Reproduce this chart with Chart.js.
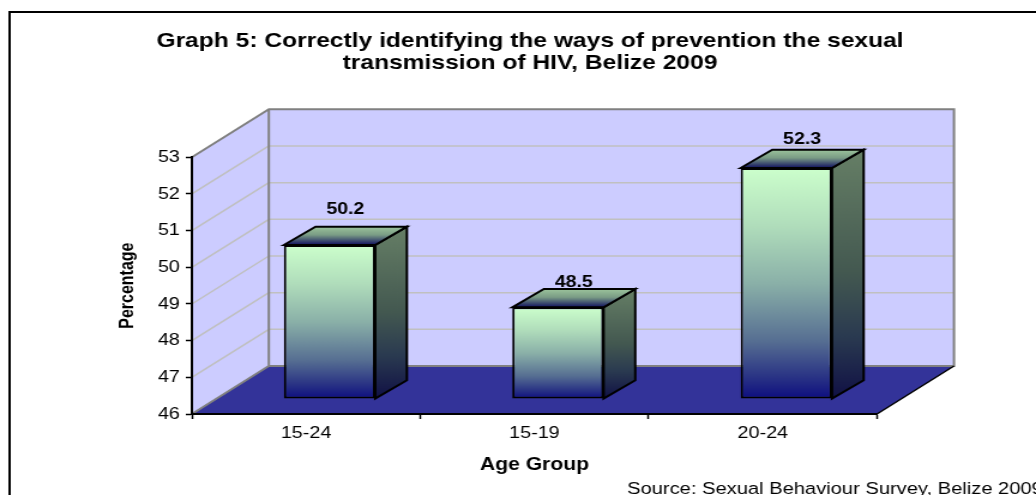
<!DOCTYPE html>
<html>
<head>
<meta charset="utf-8">
<title>Graph 5</title>
<script src="https://cdn.jsdelivr.net/npm/chart.js@4"></script>
<style>
    html, body { margin: 0; padding: 0; background: #fff; overflow: hidden; }
    /* the original picture is a wide-stretched bitmap, so the canvas is stretched the same way */
    #chart { display: block; width: 1036px !important; height: 495px !important; }
</style>
</head>
<body>
<canvas id="chart" width="864" height="495"></canvas>
<script>
const categories = ['15-24', '15-19', '20-24'];
const percentages = [50.2, 48.5, 52.3];
const axisMin = 46;
const axisMax = 53;
const titleLines = [
    'Graph 5: Correctly identifying the ways of prevention the sexual',
    'transmission of HIV, Belize 2009'
];
const sourceText = 'Source: Sexual Behaviour Survey, Belize 2009';

// 3D look: how far the back wall sits from the front plane
const depthX = 64.2;
const depthY = 48;
const barOffsetX = 19.6;
const barOffsetY = 15;
const barDepthX = 26.4;
const barDepthY = 18.3;
const labelLift = [35, 25, 28];
const fontFamily = '"Liberation Sans", Arial, sans-serif';

function verticalGradient(ctx, top, bottom, stops) {
    const g = ctx.createLinearGradient(0, top, 0, bottom);
    stops.forEach(function (s) { g.addColorStop(s[0], s[1]); });
    return g;
}

function polygon(ctx, points, fill, stroke, width) {
    ctx.beginPath();
    points.forEach(function (p, i) {
        if (i === 0) ctx.moveTo(p[0], p[1]); else ctx.lineTo(p[0], p[1]);
    });
    ctx.closePath();
    if (fill) { ctx.fillStyle = fill; ctx.fill(); }
    if (stroke) { ctx.strokeStyle = stroke; ctx.lineWidth = width; ctx.stroke(); }
}

function line(ctx, x1, y1, x2, y2, color, width) {
    ctx.beginPath();
    ctx.moveTo(x1, y1);
    ctx.lineTo(x2, y2);
    ctx.strokeStyle = color;
    ctx.lineWidth = width;
    ctx.stroke();
}

const box3d = {
    id: 'box3d',
    afterLayout(chart) {
        // title is centred a bit left of the canvas middle
        chart.titleBlock.left = 20;
        chart.titleBlock.right = 864;
    },
    beforeDraw(chart) {
        const ctx = chart.ctx;
        const area = chart.chartArea;
        const yScale = chart.scales.y;
        const l = area.left, r = area.right, t = area.top, b = area.bottom;
        ctx.save();

        // outer frame, only top and left are inside the picture
        ctx.beginPath();
        ctx.moveTo(8, 495);
        ctx.lineTo(8, 12);
        ctx.lineTo(864, 12);
        ctx.strokeStyle = '#000';
        ctx.lineWidth = 2;
        ctx.stroke();

        // walls and floor
        polygon(ctx, [[l, t], [l + depthX, t - depthY], [l + depthX, b - depthY], [l, b]], '#CCCCFF');
        polygon(ctx, [[l + depthX, t - depthY], [r + depthX, t - depthY], [r + depthX, b - depthY], [l + depthX, b - depthY]], '#CCCCFF');
        polygon(ctx, [[l, b], [l + depthX, b - depthY], [r + depthX, b - depthY], [r, b]], '#333399');

        // gridlines on both walls
        yScale.ticks.forEach(function (tick) {
            if (tick.value === yScale.min || tick.value === yScale.max) return;
            const py = yScale.getPixelForValue(tick.value);
            line(ctx, l, py, l + depthX, py - depthY, '#C0C0C0', 1.5);
            line(ctx, l + depthX, py - depthY, r + depthX, py - depthY, '#C0C0C0', 1.5);
        });

        // wall edges
        ctx.beginPath();
        ctx.moveTo(l, t);
        ctx.lineTo(l + depthX, t - depthY);
        ctx.lineTo(r + depthX, t - depthY);
        ctx.lineTo(r + depthX, b - depthY);
        ctx.lineTo(l + depthX, b - depthY);
        ctx.lineTo(l, b);
        ctx.moveTo(l + depthX, t - depthY);
        ctx.lineTo(l + depthX, b - depthY);
        ctx.strokeStyle = '#808080';
        ctx.lineWidth = 2;
        ctx.stroke();
        line(ctx, r, b, r + depthX, b - depthY, '#000', 1.5);
        ctx.restore();
    },
    beforeDatasetDraw(chart) {
        const ctx = chart.ctx;
        ctx.save();
        // move the bars back from the axis plane, then add top and side faces
        ctx.translate(barOffsetX, -barOffsetY);
        chart.getDatasetMeta(0).data.forEach(function (bar) {
            const x1 = bar.x - bar.width / 2;
            const x2 = bar.x + bar.width / 2;
            polygon(ctx, [[x2, bar.y], [x2 + barDepthX, bar.y - barDepthY], [x2 + barDepthX, bar.base - barDepthY], [x2, bar.base]],
                verticalGradient(ctx, bar.y - barDepthY, bar.base, [[0, '#667F66'], [0.5, '#435850'], [0.75, '#2A3A50'], [1, '#101045']]), '#000', 2);
            polygon(ctx, [[x1, bar.y], [x1 + barDepthX, bar.y - barDepthY], [x2 + barDepthX, bar.y - barDepthY], [x2, bar.y]],
                verticalGradient(ctx, bar.y - barDepthY, bar.y, [[0, '#9CC49C'], [0.45, '#7A9C85'], [1, '#10105F']]), '#000', 2);
        });
    },
    afterDatasetDraw(chart) {
        chart.ctx.restore();
    },
    afterDatasetsDraw(chart) {
        const ctx = chart.ctx;
        ctx.save();
        ctx.fillStyle = '#000';
        ctx.textAlign = 'center';
        ctx.textBaseline = 'middle';
        ctx.font = 'bold 16.3px ' + fontFamily;
        chart.getDatasetMeta(0).data.forEach(function (bar, i) {
            ctx.fillText(percentages[i].toFixed(1), bar.x + barOffsetX + barDepthX / 2, bar.y - barOffsetY - labelLift[i]);
        });
        // source note runs off the right edge like in the original
        ctx.textAlign = 'left';
        ctx.font = '16.8px ' + fontFamily;
        ctx.fillText(sourceText, 523, 489);
        ctx.restore();
    }
};

new Chart(document.getElementById('chart'), {
    type: 'bar',
    data: {
        labels: categories,
        datasets: [{
            label: 'Percentage',
            data: percentages,
            base: axisMin,
            barPercentage: 0.4,
            categoryPercentage: 1,
            borderColor: '#000',
            borderWidth: 2,
            borderSkipped: false,
            clip: false,
            backgroundColor: function (c) {
                const y = c.chart.scales.y;
                const top = y ? y.getPixelForValue(c.raw) : NaN;
                const bottom = y ? y.getPixelForValue(axisMin) : NaN;
                // scales have no pixels yet on the first pass
                if (!Number.isFinite(top) || !Number.isFinite(bottom)) return '#CCFFCC';
                return verticalGradient(c.chart.ctx, top, bottom,
                    [[0, '#CCFFCC'], [0.25, '#B0DDBB'], [0.5, '#8AB0A8'], [0.75, '#566E92'], [0.9, '#2B3585'], [1, '#0D0D80']]);
            }
        }]
    },
    plugins: [box3d],
    options: {
        responsive: false,
        animation: false,
        devicePixelRatio: 1,
        layout: { padding: { right: 132.6 } },
        plugins: {
            legend: { display: false },
            tooltip: { enabled: false },
            title: {
                display: true,
                text: titleLines,
                color: '#000',
                font: { family: fontFamily, size: 20.5, weight: 'bold', lineHeight: 1.08 },
                padding: { top: 30, bottom: 83 }
            }
        },
        scales: {
            x: {
                afterFit(scale) { scale.height = 81; },
                border: { color: '#000', width: 2 },
                grid: { drawOnChartArea: false, tickColor: '#000', tickWidth: 1.5, tickLength: 5 },
                ticks: {
                    autoSkip: false, maxRotation: 0, padding: 5, color: '#000',
                    font: { family: fontFamily, size: 16.5 }
                },
                title: {
                    display: true,
                    text: 'Age Group',
                    color: '#000',
                    font: { family: fontFamily, size: 17.6, weight: 'bold' },
                    padding: { top: 0, bottom: 19 }
                }
            },
            y: {
                min: axisMin,
                max: axisMax,
                afterFit(scale) { scale.width = 160; },
                border: { color: '#000', width: 2 },
                grid: { drawOnChartArea: false, tickColor: '#000', tickWidth: 1.5, tickLength: 5 },
                ticks: {
                    stepSize: 1, padding: 5, color: '#000',
                    font: { family: fontFamily, size: 16.5 }
                },
                title: {
                    display: true,
                    text: 'Percentage',
                    color: '#000',
                    font: { family: fontFamily, size: 16, weight: 'bold' },
                    padding: { top: 97, bottom: 0 }
                }
            }
        }
    }
});
</script>
</body>
</html>
